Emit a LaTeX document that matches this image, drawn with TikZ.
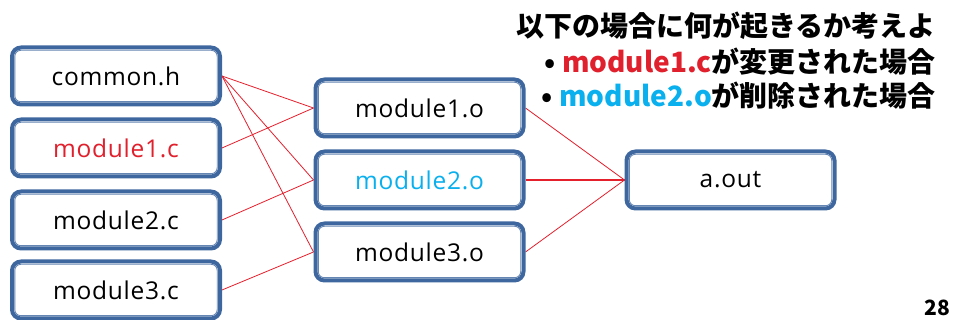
\documentclass[tikz,border=0pt]{standalone}
\usepackage{fontspec}
\setmainfont{Open Sans}[LetterSpace=3]
\newfontfamily\jpfont{Noto Sans CJK JP}
\usetikzlibrary{backgrounds}

\definecolor{boxblue}{HTML}{3F679F}
\definecolor{linkred}{HTML}{E3202C}
\definecolor{hlred}{HTML}{E0202C}
\definecolor{hlcyan}{HTML}{0AB0EE}

\tikzset{
  filebox/.style={draw=boxblue, line width=4pt, rounded corners=9pt, fill=white,
    minimum width=208pt, minimum height=57pt, inner sep=0pt,
    font=\fontsize{24.5}{28}\selectfont},
  boxinner/.style={draw=boxblue!80, line width=0.9pt, rounded corners=6pt},
  link/.style={draw=linkred, line width=0.8pt},
  boldlink/.style={draw=linkred, line width=2pt},
  note/.style={inner sep=0pt, font=\jpfont\bfseries\fontsize{28}{31}\selectfont}
}

% thin inner outline of a file box
\newcommand\boxrim[1]{\draw[boxinner] ([shift={(4.8pt,4.8pt)}]#1.south west) rectangle ([shift={(-4.8pt,-4.8pt)}]#1.north east);}

\begin{document}
\begin{tikzpicture}[x=1pt,y=1pt]
\useasboundingbox (0,0) rectangle (955,320);

% sources
\node[filebox] (common) at (116,244) {common.h};
\node[filebox, text=hlred] (m1c) at (116,172) {module1.c};
\node[filebox] (m2c) at (116,100) {module2.c};
\node[filebox] (m3c) at (116,30) {module3.c};
% objects
\node[filebox] (m1o) at (419.5,212) {module1.o};
\node[filebox, text=hlcyan] (m2o) at (419.5,140) {module2.o};
\node[filebox] (m3o) at (419.5,68) {module3.o};
% executable
\node[filebox] (aout) at (730.5,140) {a.out};

\foreach \n in {common,m1c,m2c,m3c,m1o,m2o,m3o,aout}{\boxrim{\n}}

\begin{scope}[on background layer]
  \draw[link] (common.east) -- (m1o.west);
  \draw[link] (common.east) -- (m2o.west);
  \draw[link] (common.east) -- (m3o.west);
  \draw[link] (m1c.east) -- (m1o.west);
  \draw[link] (m2c.east) -- (m2o.west);
  \draw[link] (m3c.east) -- (m3o.west);
  \draw[link] (m1o.east) -- (aout.west);
  \draw[boldlink] (m2o.east) -- (aout.west);
  \draw[link] (m3o.east) -- (aout.west);
\end{scope}

% question
\node[note, anchor=east] (q) at (936,294) {以下の場合に何が起きるか考えよ};
\node[note, anchor=east] (q1) at (936,258) {• \textcolor{hlred}{module1.c}が変更された場合};
\node[note, anchor=east] (q2) at (936,224) {• \textcolor{hlcyan}{module2.o}が削除された場合};

% page number
\node[inner sep=0pt, anchor=base east, font=\jpfont\bfseries\fontsize{21}{24}\selectfont] (page) at (950,4) {28};
\end{tikzpicture}
\end{document}
